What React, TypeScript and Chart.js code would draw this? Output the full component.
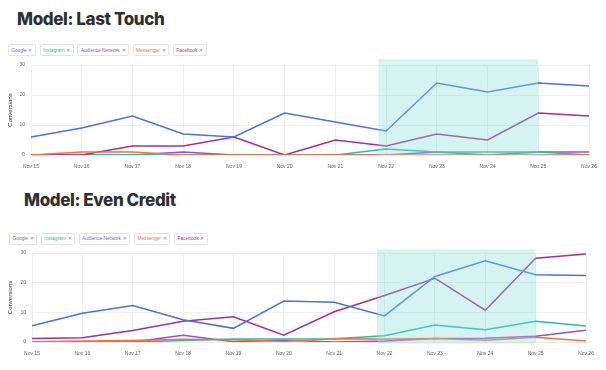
import React, { useEffect, useRef } from "react";
import { Chart, registerables } from "chart.js";

Chart.register(...registerables);

const categories = ["Nov 15", "Nov 16", "Nov 17", "Nov 18", "Nov 19", "Nov 20", "Nov 21", "Nov 22", "Nov 23", "Nov 24", "Nov 25", "Nov 26"];
const seriesNames = ["Google", "Instagram", "Audience Network", "Messenger", "Facebook"];
const seriesColors = ["#4a72df", "#1fc0a2", "#8a55dc", "#f4703c", "#ab2c97"];
const yTicks = [0, 10, 20, 30];
const yTitle = "Conversions";

// Model: Last Touch
const ltGoogle = [6, 9, 13, 7, 6, 14, 11, 8, 24, 21, 24, 23];
const ltInstagram = [0, 0, 0, 0, 0, 0, 0, 2, 1, 1, 1, 0];
const ltAudience = [0, 0, 0, 1, 0, 0, 0, 0, 1, 0, 1, 1];
const ltMessenger = [0, 1, 1, 0, 0, 0, 0, 0, 0, 0, 0, 0];
const ltFacebook = [0, 0, 3, 3, 6, 0, 5, 3, 7, 5, 14, 13];

// Model: Even Credit
const ecGoogle = [5.5, 9.7, 12.3, 7.5, 4.6, 13.8, 13.4, 8.8, 22.1, 27.4, 22.7, 22.4];
const ecInstagram = [0, 0, 0, 0.5, 1.0, 1.0, 1.1, 2.1, 5.7, 4.1, 7.0, 5.4];
const ecAudience = [0, 0, 0, 2.3, 0.1, 0.6, 0, 0.3, 1.2, 1.3, 1.9, 4.0];
const ecMessenger = [0.1, 0.3, 0.5, 0.9, 0.8, 0.2, 1.1, 1.0, 1.2, 0.6, 1.6, 0.3];
const ecFacebook = [1.2, 1.4, 3.9, 7.0, 8.5, 2.3, 10.2, 15.7, 21.5, 10.7, 28.2, 29.7];

// highlighted range (category index range, value range)
const shadeX = [6.85, 10];
const ltShadeY = [0, 31.9];
const ecShadeY = [-0.5, 31.2];

const drawOrder = [1, 3, 4, 0, 2];

type ChartProps = {
  series: number[][];
  shadeY: number[];
  yAxisWidth: number;
  xAxisHeight: number;
  padRight: number;
};

function LineChart({ series, shadeY, yAxisWidth, xAxisHeight, padRight }: ChartProps) {
  const ref = useRef<HTMLCanvasElement>(null);
  useEffect(() => {
    if (!ref.current) return;
    const shadePlugin = {
      id: "shade",
      afterDatasetsDraw(chart: any) {
        const { ctx, scales } = chart;
        const x1 = scales.x.getPixelForValue(shadeX[0]);
        const x2 = scales.x.getPixelForValue(shadeX[1]);
        const y1 = scales.y.getPixelForValue(shadeY[1]);
        const y2 = scales.y.getPixelForValue(shadeY[0]);
        ctx.save();
        ctx.fillStyle = "rgba(132, 221, 215, 0.35)";
        ctx.fillRect(x1, y1, x2 - x1, y2 - y1);
        ctx.restore();
      },
    };
    const chart = new Chart(ref.current, {
      type: "line",
      data: {
        labels: categories,
        datasets: series.map((d, i) => ({
          label: seriesNames[i],
          data: d,
          borderColor: seriesColors[i],
          backgroundColor: seriesColors[i],
          borderWidth: 1.5,
          pointRadius: 0,
          tension: 0,
          fill: false,
          order: drawOrder[i],
        })),
      },
      options: {
        animation: false,
        responsive: false,
        layout: { padding: { top: 8, right: padRight, left: 0, bottom: 0 } },
        plugins: { legend: { display: false }, tooltip: { enabled: false } },
        scales: {
          x: {
            grid: { color: "#efefef", drawTicks: false },
            border: { color: "#e8e8e8" },
            ticks: { color: "#666", font: { size: 5 }, padding: 8.5, maxRotation: 0, autoSkip: false },
            afterFit: (s: any) => { s.height = xAxisHeight; },
          },
          y: {
            min: 0,
            max: 30,
            afterBuildTicks: (s: any) => { s.ticks = yTicks.map((v) => ({ value: v })); },
            grid: { color: "#efefef", drawTicks: false },
            border: { display: false },
            ticks: { color: "#666", font: { size: 5 }, padding: 6 },
            title: { display: true, text: yTitle, color: "#333", font: { size: 6 }, padding: { top: 7, bottom: 0 } },
            afterFit: (s: any) => { s.width = yAxisWidth; },
          },
        },
      },
      plugins: [shadePlugin],
    });
    return () => chart.destroy();
  }, []);
  return <canvas ref={ref} width={606} height={120} style={{ display: "block", width: 606, height: 120 }} />;
}

function Chips({ left, top }: { left: number; top: number }) {
  return (
    <div style={{ position: "absolute", left, top, display: "flex", gap: 3.6 }}>
      {seriesNames.map((n, i) => (
        <div
          key={n}
          style={{
            height: 10,
            border: "1px solid #e4e4e4",
            borderRadius: 2,
            background: "#fff",
            display: "flex",
            alignItems: "center",
            padding: "0 2.5px",
            fontFamily: "'Liberation Sans', Arial, sans-serif",
            fontSize: 4.8,
            color: seriesColors[i],
            whiteSpace: "nowrap",
          }}
        >
          <span>{n}</span>
          <span style={{ color: "#888", marginLeft: 1.8, fontSize: 4.6 }}>✕</span>
        </div>
      ))}
    </div>
  );
}

const titleStyle: React.CSSProperties = {
  position: "absolute",
  fontFamily: "Inter, 'DejaVu Sans', sans-serif",
  fontWeight: 800,
  fontSize: 17,
  lineHeight: "17px",
  color: "#2f2f2f",
  letterSpacing: -0.4,
  whiteSpace: "nowrap",
};

export default function App() {
  return (
    <div style={{ position: "absolute", left: 0, top: 0, width: 606, height: 370, background: "#fff", overflow: "hidden" }}>
      <div style={{ ...titleStyle, left: 17, top: 10.5 }}>Model: Last Touch</div>
      <Chips left={7.7} top={44.3} />
      <div style={{ position: "absolute", left: 0, top: 56 }}>
        <LineChart
          series={[ltGoogle, ltInstagram, ltAudience, ltMessenger, ltFacebook]}
          shadeY={ltShadeY}
          yAxisWidth={31}
          xAxisHeight={21}
          padRight={17}
        />
      </div>
      <div style={{ ...titleStyle, left: 24, top: 192 }}>Model: Even Credit</div>
      <Chips left={9} top={232.7} />
      <div style={{ position: "absolute", left: 0, top: 244 }}>
        <LineChart
          series={[ecGoogle, ecInstagram, ecAudience, ecMessenger, ecFacebook]}
          shadeY={ecShadeY}
          yAxisWidth={32}
          xAxisHeight={22}
          padRight={20}
        />
      </div>
    </div>
  );
}
